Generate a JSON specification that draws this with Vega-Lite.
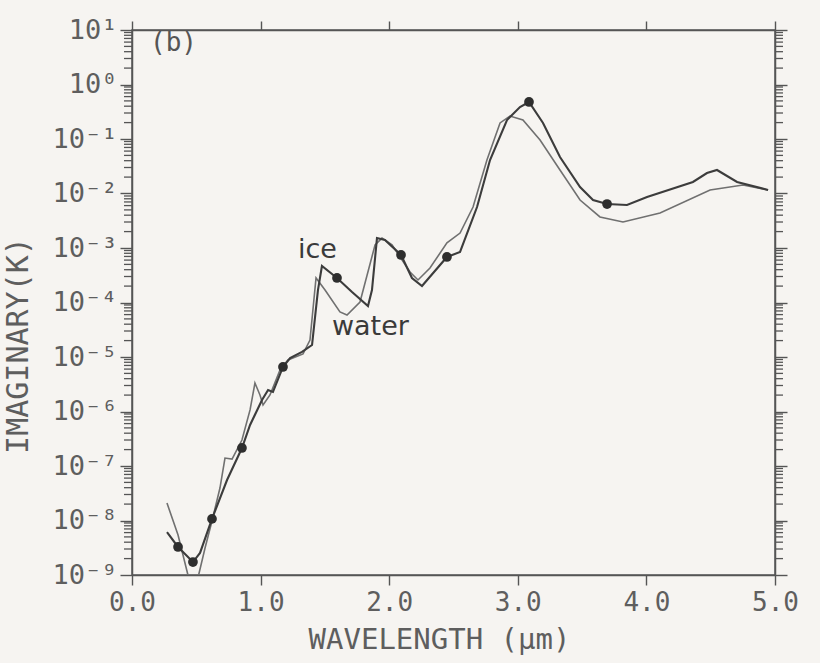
{
  "$schema": "https://vega.github.io/schema/vega-lite/v6.json",
  "width": 643,
  "height": 545,
  "autosize": {"type": "none"},
  "padding": {"left": 132, "top": 30, "right": 45, "bottom": 88},
  "background": "#f6f4f1",
  "config": {
    "view": {"stroke": "#555555", "strokeWidth": 1.5},
    "axis": {"domainColor": "#555555", "domainWidth": 1.5, "grid": false, "labelColor": "#5e5e5e", "titleColor": "#5e5e5e", "labelFont": "DejaVu Sans Mono", "titleFont": "DejaVu Sans Mono", "titleFontWeight": "normal"}
  },
  "datasets": {
    "ice": [
      {"wl": 0.272, "k": 6.15e-9}, {"wl": 0.358, "k": 3.27e-9}, {"wl": 0.474, "k": 1.73e-9}, {"wl": 0.529, "k": 2.54e-9},
      {"wl": 0.622, "k": 1.07e-8}, {"wl": 0.739, "k": 5.53e-8}, {"wl": 0.855, "k": 2.14e-7}, {"wl": 0.918, "k": 5.65e-7},
      {"wl": 1.011, "k": 1.63e-6}, {"wl": 1.058, "k": 2.48e-6}, {"wl": 1.096, "k": 2.28e-6}, {"wl": 1.174, "k": 6.56e-6},
      {"wl": 1.229, "k": 9.59e-6}, {"wl": 1.322, "k": 1.24e-5}, {"wl": 1.4, "k": 1.66e-5}, {"wl": 1.446, "k": 1.69e-4},
      {"wl": 1.477, "k": 4.68e-4}, {"wl": 1.594, "k": 2.82e-4}, {"wl": 1.711, "k": 1.56e-4}, {"wl": 1.835, "k": 8.63e-5},
      {"wl": 1.866, "k": 1.69e-4}, {"wl": 1.905, "k": 1.52e-3}, {"wl": 1.967, "k": 1.4e-3}, {"wl": 2.092, "k": 7.45e-4},
      {"wl": 2.177, "k": 2.82e-4}, {"wl": 2.255, "k": 2.01e-4}, {"wl": 2.449, "k": 6.84e-4}, {"wl": 2.551, "k": 8.45e-4},
      {"wl": 2.683, "k": 5.65e-3}, {"wl": 2.784, "k": 0.0412}, {"wl": 2.916, "k": 0.223}, {"wl": 3.017, "k": 0.386},
      {"wl": 3.087, "k": 0.478}, {"wl": 3.196, "k": 0.197}, {"wl": 3.328, "k": 0.0468}, {"wl": 3.484, "k": 0.01315},
      {"wl": 3.585, "k": 0.0076}, {"wl": 3.694, "k": 0.00641}, {"wl": 3.849, "k": 0.00615}, {"wl": 4.005, "k": 0.00863},
      {"wl": 4.362, "k": 0.01626}, {"wl": 4.471, "k": 0.02377}, {"wl": 4.549, "k": 0.02698}, {"wl": 4.705, "k": 0.01626},
      {"wl": 4.946, "k": 0.01159}
    ],
    "ice_markers": [
      {"wl": 0.358, "k": 3.27e-9}, {"wl": 0.474, "k": 1.73e-9}, {"wl": 0.622, "k": 1.07e-8}, {"wl": 0.855, "k": 2.14e-7},
      {"wl": 1.174, "k": 6.56e-6}, {"wl": 1.594, "k": 2.82e-4}, {"wl": 2.092, "k": 7.45e-4}, {"wl": 2.449, "k": 6.84e-4},
      {"wl": 3.087, "k": 0.478}, {"wl": 3.694, "k": 0.00641}
    ],
    "water": [
      {"wl": 0.272, "k": 2.09e-8}, {"wl": 0.358, "k": 5.42e-9}, {"wl": 0.435, "k": 1.0e-9}, {"wl": 0.451, "k": 6.6e-10},
      {"wl": 0.505, "k": 7.4e-10}, {"wl": 0.568, "k": 3.13e-9}, {"wl": 0.622, "k": 9.8e-9}, {"wl": 0.684, "k": 3.94e-8},
      {"wl": 0.723, "k": 1.4e-7}, {"wl": 0.778, "k": 1.34e-7}, {"wl": 0.855, "k": 3.0e-7}, {"wl": 0.918, "k": 1.07e-6},
      {"wl": 0.956, "k": 3.33e-6}, {"wl": 0.995, "k": 2.01e-6}, {"wl": 1.019, "k": 1.32e-6}, {"wl": 1.073, "k": 2.01e-6},
      {"wl": 1.151, "k": 5.77e-6}, {"wl": 1.213, "k": 8.81e-6}, {"wl": 1.33, "k": 1.14e-5}, {"wl": 1.384, "k": 2.05e-5},
      {"wl": 1.431, "k": 2.82e-4}, {"wl": 1.501, "k": 1.69e-4}, {"wl": 1.617, "k": 6.7e-5}, {"wl": 1.672, "k": 5.9e-5},
      {"wl": 1.773, "k": 1.02e-4}, {"wl": 1.89, "k": 1.14e-3}, {"wl": 1.944, "k": 1.52e-3}, {"wl": 2.022, "k": 1.14e-3},
      {"wl": 2.162, "k": 3.63e-4}, {"wl": 2.224, "k": 2.59e-4}, {"wl": 2.317, "k": 4.3e-4}, {"wl": 2.449, "k": 1.24e-3},
      {"wl": 2.551, "k": 1.88e-3}, {"wl": 2.652, "k": 5.65e-3}, {"wl": 2.76, "k": 0.0412}, {"wl": 2.862, "k": 0.197},
      {"wl": 2.939, "k": 0.264}, {"wl": 3.04, "k": 0.223}, {"wl": 3.173, "k": 0.0959}, {"wl": 3.328, "k": 0.027},
      {"wl": 3.484, "k": 0.0076}, {"wl": 3.639, "k": 0.00371}, {"wl": 3.818, "k": 0.003}, {"wl": 4.106, "k": 0.00439},
      {"wl": 4.495, "k": 0.01159}, {"wl": 4.751, "k": 0.01432}, {"wl": 4.946, "k": 0.01159}
    ],
    "minor_ticks": [
      {"k": 2e-9}, {"k": 3e-9}, {"k": 4e-9}, {"k": 5e-9}, {"k": 6e-9}, {"k": 7e-9}, {"k": 8e-9}, {"k": 9e-9},
      {"k": 2e-8}, {"k": 3e-8}, {"k": 4e-8}, {"k": 5e-8}, {"k": 6e-8}, {"k": 7e-8}, {"k": 8e-8}, {"k": 9e-8},
      {"k": 2e-7}, {"k": 3e-7}, {"k": 4e-7}, {"k": 5e-7}, {"k": 6e-7}, {"k": 7e-7}, {"k": 8e-7}, {"k": 9e-7},
      {"k": 2e-6}, {"k": 3e-6}, {"k": 4e-6}, {"k": 5e-6}, {"k": 6e-6}, {"k": 7e-6}, {"k": 8e-6}, {"k": 9e-6},
      {"k": 2e-5}, {"k": 3e-5}, {"k": 4e-5}, {"k": 5e-5}, {"k": 6e-5}, {"k": 7e-5}, {"k": 8e-5}, {"k": 9e-5},
      {"k": 2e-4}, {"k": 3e-4}, {"k": 4e-4}, {"k": 5e-4}, {"k": 6e-4}, {"k": 7e-4}, {"k": 8e-4}, {"k": 9e-4},
      {"k": 2e-3}, {"k": 3e-3}, {"k": 4e-3}, {"k": 5e-3}, {"k": 6e-3}, {"k": 7e-3}, {"k": 8e-3}, {"k": 9e-3},
      {"k": 0.02}, {"k": 0.03}, {"k": 0.04}, {"k": 0.05}, {"k": 0.06}, {"k": 0.07}, {"k": 0.08}, {"k": 0.09},
      {"k": 0.2}, {"k": 0.3}, {"k": 0.4}, {"k": 0.5}, {"k": 0.6}, {"k": 0.7}, {"k": 0.8}, {"k": 0.9},
      {"k": 2}, {"k": 3}, {"k": 4}, {"k": 5}, {"k": 6}, {"k": 7}, {"k": 8}, {"k": 9}
    ],
    "labels": [
      {"wl": 1.29, "k": 6.6e-4, "text": "ice"},
      {"wl": 1.555, "k": 2.5e-5, "text": "water"}
    ],
    "panel": [
      {"wl": 0.14, "k": 5.75, "text": "(b)"}
    ]
  },
  "layer": [
    {
      "data": {"name": "water"},
      "mark": {"type": "line", "stroke": "#707070", "strokeWidth": 1.6, "clip": true},
      "encoding": {
        "x": {"field": "wl", "type": "quantitative",
          "scale": {"domain": [0, 5], "nice": false, "zero": false},
          "axis": {"orient": "bottom", "values": [0, 1, 2, 3, 4, 5], "format": ".1f", "labelFontSize": 26, "labelPadding": 4, "tickSize": 10, "tickColor": "#555555", "tickWidth": 1.4, "labelFlush": false,
            "title": "WAVELENGTH (µm)", "titleFontSize": 29, "titleX": 307, "titleY": 64, "titleBaseline": "middle", "titleAnchor": "start", "titleAlign": "center"}},
        "y": {"field": "k", "type": "quantitative",
          "scale": {"type": "log", "domain": [1e-9, 10], "nice": false},
          "axis": {"orient": "left", "tickColor": "#555555", "tickWidth": 1.4, "tickSize": 12,
            "values": [1e-9, 1e-8, 1e-7, 1e-6, 1e-5, 1e-4, 1e-3, 0.01, 0.1, 1, 10],
            "labelExpr": "'10' + ['⁻⁹','⁻⁸','⁻⁷','⁻⁶','⁻⁵','⁻⁴','⁻³','⁻²','⁻¹','⁰','¹'][round(log(datum.value)/LN10)+9]",
            "labelFontSize": 27, "labelOverlap": false, "labelFlush": false, "labelPadding": 3, "labelBaseline": "middle",
            "title": "IMAGINARY(K)", "titleFontSize": 30, "titleX": -114, "titleY": 315, "titleAngle": -90, "titleBaseline": "middle", "titleAlign": "center", "titleAnchor": "start"}}
      }
    },
    {
      "data": {"name": "ice"},
      "mark": {"type": "line", "stroke": "#3c3c3c", "strokeWidth": 2.1, "clip": true},
      "encoding": {
        "x": {"field": "wl", "type": "quantitative",
          "axis": {"orient": "top", "values": [0, 1, 2, 3, 4, 5], "labels": false, "tickSize": 9, "tickColor": "#555555", "tickWidth": 1.4, "title": null}},
        "y": {"field": "k", "type": "quantitative",
          "axis": {"orient": "right", "values": [1e-9, 1e-8, 1e-7, 1e-6, 1e-5, 1e-4, 1e-3, 0.01, 0.1, 1, 10],
            "labels": false, "title": null, "tickSize": 12, "tickColor": "#555555", "tickWidth": 1.4}}
      }
    },
    {
      "data": {"name": "minor_ticks"},
      "mark": {"type": "tick", "orient": "horizontal", "size": 8, "thickness": 1.3, "color": "#555555", "xOffset": -4, "clip": false, "opacity": 1},
      "encoding": {
        "x": {"datum": 0, "type": "quantitative", "axis": null},
        "y": {"field": "k", "type": "quantitative", "axis": null}
      }
    },
    {
      "data": {"name": "minor_ticks"},
      "mark": {"type": "tick", "orient": "horizontal", "size": 8, "thickness": 1.3, "color": "#555555", "xOffset": 4, "clip": false, "opacity": 1},
      "encoding": {
        "x": {"datum": 5, "type": "quantitative", "axis": null},
        "y": {"field": "k", "type": "quantitative", "axis": null}
      }
    },
    {
      "data": {"name": "ice_markers"},
      "mark": {"type": "circle", "size": 95, "color": "#2e2e2e", "opacity": 1},
      "encoding": {
        "x": {"field": "wl", "type": "quantitative", "axis": null},
        "y": {"field": "k", "type": "quantitative", "axis": null}
      }
    },
    {
      "data": {"name": "labels"},
      "mark": {"type": "text", "font": "DejaVu Sans", "fontSize": 27, "align": "left", "baseline": "alphabetic", "color": "#3a3a3a"},
      "encoding": {
        "x": {"field": "wl", "type": "quantitative", "axis": null},
        "y": {"field": "k", "type": "quantitative", "axis": null},
        "text": {"field": "text"}
      }
    },
    {
      "data": {"name": "panel"},
      "mark": {"type": "text", "font": "DejaVu Sans Mono", "fontSize": 26, "align": "left", "baseline": "middle", "color": "#555555"},
      "encoding": {
        "x": {"field": "wl", "type": "quantitative", "axis": null},
        "y": {"field": "k", "type": "quantitative", "axis": null},
        "text": {"field": "text"}
      }
    }
  ],
  "resolve": {"axis": {"x": "independent", "y": "independent"}}
}
